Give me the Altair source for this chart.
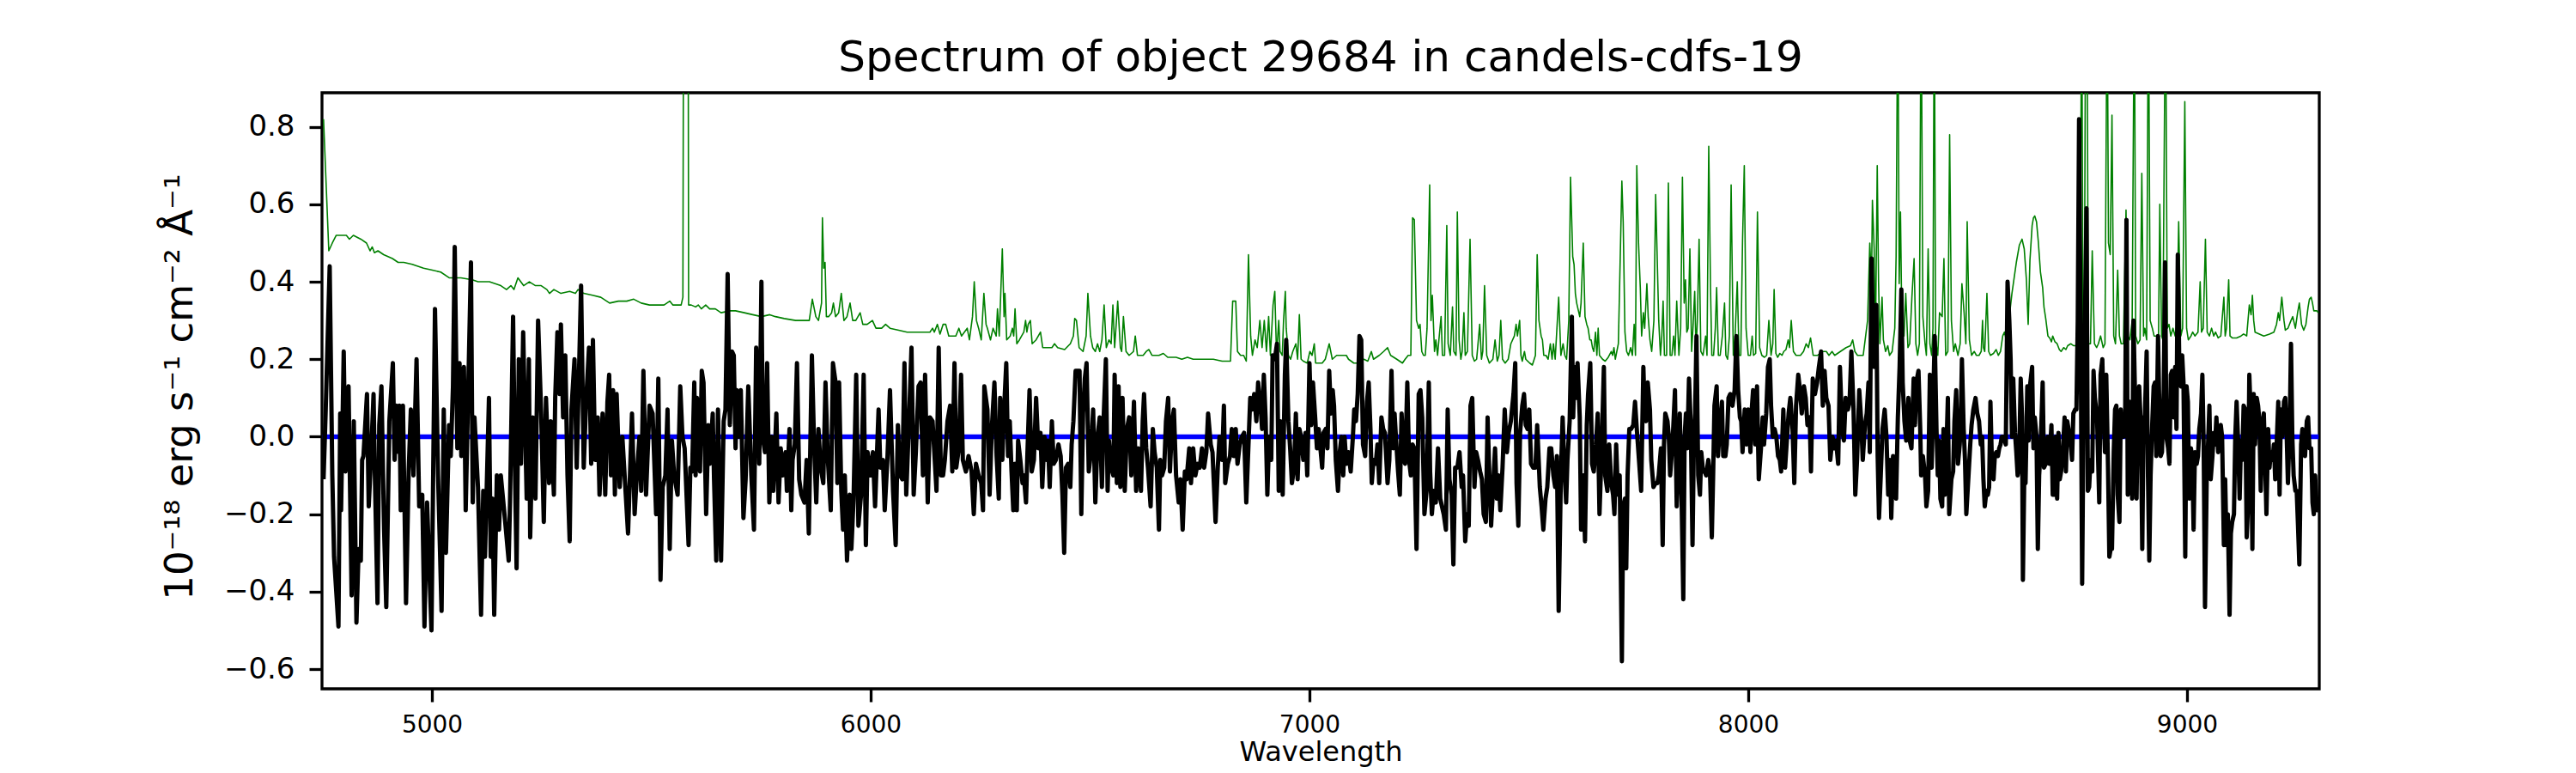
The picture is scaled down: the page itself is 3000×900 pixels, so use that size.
import altair as alt
import pandas as pd

TITLE = "Spectrum of object 29684 in candels-cdfs-19"
X_TITLE = "Wavelength"
Y_TITLE = "10⁻¹⁸ erg s⁻¹ cm⁻² Å⁻¹"
x_ticks = [5000, 6000, 7000, 8000, 9000]
y_ticks = [-0.6, -0.4, -0.2, 0.0, 0.2, 0.4, 0.6, 0.8]

# ---- object spectrum (black), (wavelength, flux) ----
black_seg1 = [(4753,-0.11),(4758,0.07),(4767,0.44),(4773,-0.10),(4777,-0.31),(4787,-0.49),(4791,0.06),(4793,-0.19),(4799,0.22),(4803,-0.09),
(4805,0.06),(4810,0.13),(4817,-0.41),(4822,0.04),(4828,-0.48),(4833,-0.29),(4838,-0.32),(4841,-0.06),(4844,-0.05),(4852,0.11),
(4856,-0.18),(4861,-0.06),(4867,0.11),(4870,-0.10),(4876,-0.43),(4880,0.03),(4885,0.13),(4891,-0.24),(4896,-0.44),(4903,0.04),
(4911,0.19),(4915,-0.06),(4919,0.08),(4924,-0.04),(4926,0.08),(4929,-0.19),(4934,0.08),(4941,-0.43),(4947,-0.09),(4952,0.07),
(4958,-0.10),(4965,0.20),(4971,-0.18),(4978,-0.15),(4983,-0.49),(4989,-0.17),(4999,-0.50),(5007,0.33),(5014,-0.10),(5022,-0.45),
(5027,0.07),(5032,-0.30),(5039,0.03),(5043,-0.05),(5048,0.13),(5052,0.49),(5058,-0.03),(5063,0.19),(5067,-0.05),(5073,0.18),
(5077,-0.19),(5082,0.08),(5089,0.45),(5093,-0.17),(5097,0.05),(5105,-0.13),(5112,-0.46),(5117,-0.14),(5121,-0.31),(5130,0.10),
(5134,-0.31),(5138,-0.16),(5142,-0.46),(5148,-0.10),(5153,-0.24),(5157,-0.10),(5167,-0.22),(5175,-0.32),(5178,-0.17),(5185,0.31),
(5189,-0.06),(5193,-0.34),(5198,0.20),(5203,-0.07),(5208,0.27),(5216,-0.16),(5221,0.20),(5224,-0.26),(5230,0.05),(5236,-0.16),
(5242,0.30),(5249,0.06),(5255,-0.22),(5260,0.10),(5267,-0.12),(5271,0.04),(5278,-0.15),(5281,0.10),(5286,0.27),(5291,0.11),
(5294,0.29),(5299,0.05),(5304,0.21),(5309,-0.10),(5314,-0.27),(5318,0.07),(5325,0.20),(5330,-0.08),(5340,0.39),(5346,-0.08),
(5351,0.08),(5358,0.23),(5363,-0.07),(5367,0.25),(5372,-0.06),(5378,0.05),(5382,-0.15),(5389,0.06),(5395,-0.15),(5400,0.09),
(5404,0.16),(5408,-0.10),(5413,0.12),(5417,-0.15),(5421,0.11),(5428,-0.13),(5434,0.00),(5447,-0.25),(5456,0.06),(5462,-0.20),
(5467,-0.10),(5473,0.00),(5477,-0.14),(5482,0.17),(5488,-0.15),(5496,0.08)]

black_seg2 = [(5503,0.06),(5511,-0.20),(5516,0.15),(5521,-0.37),(5526,-0.13),(5532,-0.10),(5537,0.07),(5542,-0.29),(5547,-0.01),(5552,-0.10),
(5560,-0.15),(5566,0.13),(5571,0.00),(5576,-0.03),(5585,-0.28),(5589,-0.08),(5593,-0.09),(5598,0.14),(5601,-0.10),(5604,0.10),
(5607,0.07),(5611,-0.09),(5615,0.17),(5619,0.14),(5625,-0.20),(5630,0.03),(5633,-0.07),(5640,0.06),(5643,-0.11),(5648,-0.32),
(5652,0.07),(5656,-0.17),(5659,-0.32),(5665,0.04),(5669,0.07),(5674,0.42),(5679,0.03),(5684,0.22),(5688,0.21),(5692,-0.03),
(5695,0.12),(5699,0.00),(5704,0.12),(5710,-0.21),(5715,-0.11),(5721,0.13),(5728,-0.10),(5734,-0.24),(5739,0.23),(5743,0.14),
(5746,-0.07),(5751,0.40),(5754,0.00),(5759,-0.04),(5764,0.19),(5769,-0.17),(5774,0.00),(5778,-0.14),(5785,0.06),(5790,-0.17),
(5795,-0.03),(5800,-0.10),(5806,-0.04),(5809,-0.14),(5815,0.02),(5819,-0.19),(5822,-0.06),(5827,-0.02),(5832,0.19),(5837,-0.11),
(5842,-0.15),(5849,-0.17),(5854,-0.06),(5859,-0.25),(5866,0.21),(5871,-0.02),(5876,-0.17),(5881,0.02),(5886,-0.08),(5892,-0.12),
(5897,0.14),(5902,-0.05),(5909,-0.19),(5914,0.19),(5920,0.14),(5924,-0.12),(5928,0.14),(5933,-0.14),(5937,-0.24),(5941,-0.10),
(5946,-0.32),(5952,-0.15),(5956,-0.29),(5961,-0.16),(5967,0.16),(5972,-0.23),(5978,-0.15),(5984,0.16),(5989,-0.28),(5993,-0.04),
(6000,-0.10),(6005,-0.04),(6010,-0.18),(6018,0.07),(6022,-0.08),(6028,-0.06),(6032,-0.19),(6038,-0.06),(6044,0.12),(6051,-0.14),
(6057,-0.28),(6062,0.03),(6067,-0.10),(6072,-0.11),(6077,0.19),(6081,-0.15),(6087,0.03),(6093,0.23),(6098,-0.15),(6103,-0.04),
(6109,0.13),(6114,0.14),(6119,-0.10),(6124,0.16),(6130,-0.17),(6135,0.05),(6141,0.04),(6145,-0.04),(6150,-0.14),(6155,0.23),
(6160,-0.10),(6165,-0.10),(6169,-0.06),(6175,0.04),(6181,0.08),(6186,-0.09),(6191,0.19),(6195,-0.08),(6201,-0.03),(6206,0.16),
(6210,-0.06),(6217,-0.09),(6223,-0.05),(6230,-0.09),(6235,-0.20),(6240,-0.07),(6246,-0.10),(6252,-0.12),(6256,-0.19),(6259,0.13)]

black_seg3 = [(6266,0.07),(6271,-0.15),(6276,0.02),(6282,0.14),(6287,-0.05),(6292,-0.16),(6295,0.10),(6300,-0.06),(6304,0.07),(6309,0.19),
(6313,-0.05),(6317,0.04),(6321,-0.09),(6325,-0.19),(6329,-0.07),(6333,-0.19),(6336,-0.01),(6341,-0.06),(6346,-0.12),(6349,-0.10),
(6354,-0.17),(6357,-0.05),(6362,0.12),(6367,-0.09),(6372,-0.06),(6377,0.10),(6382,-0.03),(6387,0.01),(6391,-0.13),(6396,0.00),
(6401,-0.06),(6404,-0.01),(6408,-0.13),(6413,0.04),(6417,-0.07),(6422,-0.06),(6428,-0.02),(6433,-0.05),(6437,-0.15),(6441,-0.30),
(6445,-0.08),(6450,-0.07),(6455,-0.13),(6458,-0.02),(6462,0.04),(6467,0.17),(6471,0.17),(6476,0.17),(6480,-0.20),(6484,0.06),
(6488,0.15),(6492,0.19),(6497,-0.09),(6502,-0.04),(6507,0.07),(6512,-0.17),(6517,0.00),(6522,0.05),(6527,-0.13),(6531,0.05),
(6536,0.20),(6540,-0.14),(6543,-0.01),(6548,-0.08),(6553,-0.10),(6556,0.16),(6561,-0.12),(6565,0.13),(6569,-0.13),(6574,0.10),
(6579,-0.14),(6584,0.02),(6589,0.05),(6594,-0.10),(6600,0.09),(6605,-0.14),(6610,-0.03),(6616,-0.14),(6620,0.04),(6623,0.11),
(6628,-0.03),(6632,-0.08),(6638,-0.18),(6643,0.02),(6647,-0.04),(6652,-0.08),(6657,-0.24),(6660,-0.06),(6664,-0.10),(6669,-0.08),
(6673,0.04),(6678,0.10),(6682,-0.09),(6687,0.04),(6691,0.07),(6696,-0.10),(6702,-0.17),(6706,-0.11),(6711,-0.24),(6716,-0.09),
(6720,-0.11),(6726,-0.03),(6730,-0.12),(6735,-0.03),(6740,-0.10),(6745,-0.07),(6750,-0.08),(6755,-0.03),(6760,-0.08),(6765,-0.04),
(6769,0.06),(6775,-0.02),(6779,-0.04),(6786,-0.22),(6791,-0.08),(6795,0.00),(6801,-0.06),(6805,0.08),(6808,-0.12),(6814,-0.07),
(6819,-0.05),(6823,0.02),(6828,-0.05),(6832,0.02),(6836,-0.07),(6841,-0.02),(6846,0.00),(6851,0.01),(6856,-0.17),(6861,-0.02),
(6865,0.10),(6869,0.07),(6874,0.11),(6879,0.04),(6883,0.14),(6889,0.07),(6892,0.02),(6896,0.16),(6900,0.05),(6904,-0.15),
(6908,0.00),(6913,-0.06),(6916,0.21),(6921,0.20),(6926,0.24),(6930,-0.14),(6934,0.04),(6939,-0.15),(6944,0.16),(6947,0.25),
(6952,0.04),(6956,-0.03),(6960,-0.12),(6965,-0.08),(6969,0.06),(6973,-0.11),(6977,0.02),(6981,0.00),(6986,-0.06),(6991,0.01),
(6995,-0.10),(7000,0.19),(7004,0.03),(7008,0.14),(7013,0.05),(7017,-0.03),(7021,0.02)]

black_seg4 = [(7029,-0.08),(7032,0.01),(7037,0.02),(7041,-0.03),(7045,0.17),(7049,0.06),(7053,0.12),(7056,0.08),(7060,-0.06),(7065,-0.14),
(7069,-0.04),(7073,0.00),(7077,-0.10),(7080,0.00),(7084,-0.07),(7089,-0.04),(7094,-0.09),(7099,0.00),(7102,0.07),(7106,0.04),
(7110,0.11),(7114,0.26),(7118,0.25),(7122,-0.02),(7127,-0.05),(7131,0.09),(7135,0.14),(7139,0.02),(7142,-0.12),(7146,-0.06),
(7151,-0.07),(7155,-0.02),(7159,-0.12),(7164,0.05),(7168,0.02),(7172,0.01),(7178,-0.12),(7182,-0.06),(7187,0.17),(7191,-0.03),
(7194,0.06),(7197,0.00),(7202,-0.09),(7206,-0.15),(7210,0.06),(7215,-0.06),(7218,-0.07),(7223,0.14),(7227,-0.06),(7231,-0.10),
(7235,-0.02),(7239,-0.03),(7244,-0.29),(7249,0.11),(7253,0.12),(7257,0.05),(7262,-0.20),(7267,-0.14),(7272,0.14),(7275,-0.09),
(7279,-0.20),(7283,-0.14),(7288,-0.17),(7293,-0.03),(7298,-0.16),(7302,-0.18),(7306,-0.20),(7311,-0.24),(7315,0.07),(7319,-0.11),
(7324,-0.15),(7328,-0.33),(7332,-0.08),(7337,-0.08),(7342,-0.04),(7347,-0.13),(7350,-0.10),(7355,-0.27),(7359,-0.20),(7363,-0.23),
(7367,0.08),(7371,0.10),(7376,-0.13),(7380,-0.04),(7384,-0.06),(7389,-0.09),(7393,-0.11),(7397,-0.20),(7402,-0.22),(7406,0.05),
(7410,-0.10),(7414,-0.23),(7418,-0.14),(7423,-0.03),(7427,-0.16),(7431,-0.10),(7435,-0.19),(7440,-0.08),(7445,0.07),(7450,-0.04),
(7454,0.01),(7459,0.04),(7465,0.11),(7469,0.19),(7472,-0.12),(7476,-0.23),(7480,0.01),(7485,0.08),(7489,0.11),(7493,0.03),
(7497,0.02),(7501,0.07),(7505,-0.07),(7510,-0.08),(7515,-0.08),(7519,0.03),(7525,-0.13),(7529,-0.18),(7533,-0.24),(7538,-0.16),
(7542,-0.13),(7547,-0.03),(7551,-0.03),(7556,-0.10),(7560,-0.13),(7564,-0.05),(7568,-0.45),(7573,-0.10),(7577,0.05),(7581,-0.08),
(7585,-0.17),(7588,-0.06),(7593,0.04),(7598,0.31),(7601,0.05),(7604,0.18),(7608,0.10),(7611,0.19),(7616,0.05),(7619,-0.24),
(7624,-0.10),(7628,-0.27),(7632,0.03),(7635,0.11),(7640,0.19),(7644,-0.07),(7648,-0.09),(7653,-0.02),(7657,0.06),(7661,-0.20),
(7666,-0.03),(7671,0.18),(7674,-0.10),(7679,-0.14),(7683,-0.02),(7688,-0.12),(7692,-0.15),(7695,-0.20),(7699,-0.02),(7703,-0.15),
(7707,-0.10),(7712,-0.58),(7715,-0.18),(7719,-0.16),(7722,-0.34),(7725,-0.10),(7729,0.02),(7733,0.02),(7738,0.03),(7742,0.09),
(7746,0.02),(7751,-0.06),(7756,-0.14),(7761,0.18),(7764,0.06),(7767,0.04),(7771,0.14),(7776,0.07),(7779,-0.06),(7784,-0.13),
(7789,-0.12)]

black_seg5 = [(7793,-0.12),(7796,-0.10),(7801,-0.03),(7805,-0.28),(7808,-0.02),(7811,0.06),(7816,0.04),(7819,0.00),(7822,-0.10),(7826,-0.04),
(7829,0.02),(7833,0.12),(7837,-0.18),(7841,-0.06),(7844,0.06),(7848,-0.15),(7852,-0.42),(7855,0.00),(7858,0.06),(7861,-0.03),
(7865,0.15),(7869,0.03),(7873,-0.28),(7876,-0.02),(7879,0.06),(7882,0.26),(7886,-0.10),(7890,-0.15),(7893,-0.04),(7897,-0.09),
(7901,-0.09),(7904,-0.10),(7909,-0.06),(7913,-0.10),(7917,-0.26),(7920,-0.10),(7923,0.08),(7928,0.13),(7931,-0.05),(7935,0.02),
(7940,0.09),(7943,-0.05),(7948,-0.05),(7951,-0.02),(7955,0.10),(7959,0.11),(7964,0.08),(7969,0.12),(7973,0.26),(7977,0.12),
(7981,0.05),(7984,0.04),(7987,-0.04),(7992,0.07),(7996,-0.02),(8000,0.07),(8005,-0.04),(8008,0.07),(8011,0.12),(8016,-0.02),
(8020,0.13),(8024,-0.11),(8029,-0.03),(8033,0.05),(8036,-0.02),(8041,0.06),(8045,0.18),(8049,0.20),(8052,0.08),(8056,0.00),
(8060,0.02),(8064,0.00),(8068,-0.05),(8072,-0.06),(8075,-0.09),(8080,0.07),(8084,-0.08),(8088,-0.01),(8092,0.06),(8096,0.10),
(8101,0.02),(8105,-0.12),(8109,0.08),(8114,0.16),(8118,0.12),(8122,0.06),(8127,0.13),(8131,0.10),(8135,0.03),(8140,0.05),
(8143,-0.09),(8147,0.15),(8152,0.11),(8157,0.14),(8161,0.18),(8166,0.22),(8170,0.08),(8174,0.17),(8178,0.10),(8183,0.08),
(8187,-0.06),(8192,0.00),(8196,-0.03),(8200,-0.01),(8205,-0.07),(8209,0.18),(8214,0.02),(8218,-0.01),(8222,0.10),(8227,0.07),
(8231,0.09),(8235,0.22),(8240,0.07),(8244,-0.15),(8248,-0.06),(8253,0.12),(8257,0.05),(8261,-0.06),(8266,0.03),(8270,0.06),
(8274,0.14),(8277,-0.04),(8281,0.46),(8284,0.30),(8287,0.18),(8292,0.34),(8295,-0.05),(8298,-0.21),(8302,-0.10),(8306,0.02),
(8311,0.07),(8315,0.00),(8319,-0.15),(8323,-0.06),(8326,-0.21),(8330,-0.05),(8333,-0.11),(8337,-0.16),(8341,0.05),(8345,0.18),
(8349,0.38),(8352,0.14),(8356,0.04),(8360,-0.01),(8365,0.10),(8368,-0.01),(8372,-0.03),(8377,0.15),(8380,0.03),(8383,0.14),
(8388,0.17),(8392,0.02),(8394,-0.10),(8398,-0.05),(8403,-0.10),(8406,-0.18),(8410,-0.14),(8414,0.16),(8418,-0.08),(8421,0.06),
(8425,0.26),(8429,0.02),(8432,-0.10),(8435,-0.01),(8438,-0.16),(8442,-0.18),(8445,0.02),(8448,-0.15),(8452,-0.02),(8455,0.10),
(8458,-0.20),(8463,-0.11),(8467,-0.09),(8470,0.04),(8474,0.12),(8478,-0.07),(8482,-0.02),(8484,0.02),(8487,0.20),(8491,0.02),
(8494,-0.06),(8497,-0.20),(8502,-0.10),(8506,-0.02),(8509,0.03),(8513,0.07),(8518,0.10),(8522,0.06),(8526,0.04),(8530,-0.02),
(8533,0.00)]

black_seg6 = [(8536,-0.11),(8539,-0.18),(8543,-0.14),(8546,-0.15),(8549,-0.13),(8552,0.09),(8556,-0.10),(8559,-0.11),(8562,-0.05),(8565,-0.04),
(8569,-0.05),(8572,-0.03),(8575,-0.02),(8578,0.00),(8582,0.00),(8587,-0.02),(8591,0.40),(8595,0.30),(8598,0.20),(8601,0.00),
(8604,0.15),(8608,0.01),(8611,-0.04),(8614,-0.10),(8617,-0.08),(8621,0.15),(8624,0.05),(8626,-0.37),(8629,-0.11),(8632,-0.12),
(8636,0.13),(8639,-0.01),(8642,0.13),(8647,0.18),(8650,-0.03),(8653,0.05),(8657,0.00),(8660,-0.29),(8663,-0.10),(8666,-0.04),
(8671,0.14),(8674,-0.08),(8678,-0.07),(8683,0.00),(8686,-0.07),(8691,0.03),(8694,-0.15),(8698,-0.15),(8701,0.00),(8704,-0.16),
(8707,0.01),(8710,-0.11),(8713,-0.09),(8717,-0.04),(8721,0.05),(8724,-0.09),(8727,0.04),(8730,0.02),(8735,-0.02),(8738,-0.06),
(8741,0.06),(8745,0.07),(8748,0.07),(8751,0.30),(8754,0.82),(8758,0.20),(8761,-0.38),(8764,0.05),(8767,0.27),(8771,0.59),
(8774,-0.14),(8777,-0.13),(8780,-0.06),(8784,-0.09),(8787,0.17),(8790,0.10),(8795,0.05),(8800,-0.17),(8803,0.16),(8807,0.20),
(8810,0.05),(8813,-0.04),(8816,0.16),(8820,-0.08),(8823,-0.31),(8826,-0.29),(8829,-0.29),(8833,-0.04),(8836,0.07),(8839,0.08),
(8842,-0.15),(8846,-0.22),(8849,0.07),(8852,0.00),(8855,0.00),(8859,0.04),(8862,0.56),(8865,-0.15),(8869,0.09),(8872,0.00),
(8875,-0.16),(8878,0.30),(8882,0.08),(8885,-0.16),(8888,0.08),(8891,0.13),(8895,0.02),(8898,-0.29),(8901,0.05),(8904,0.05),
(8908,0.22),(8911,-0.10),(8914,-0.32),(8917,-0.10),(8921,0.04),(8924,0.13),(8927,0.14),(8930,-0.05),(8934,0.26),(8937,0.07),
(8940,-0.05),(8943,-0.04),(8947,0.12),(8950,0.45),(8953,0.00),(8957,-0.03),(8960,-0.07),(8963,0.16),(8966,0.17),(8970,0.05),
(8973,0.18),(8976,0.02),(8979,0.47),(8983,0.14),(8986,0.13),(8989,0.21),(8992,0.14),(8996,-0.31),(8999,0.13),(9002,0.09),
(9005,-0.16),(9009,-0.03),(9012,-0.06),(9015,-0.24),(9018,-0.04),(9022,-0.07),(9025,-0.05),(9028,0.02),(9032,0.06),(9035,0.16),
(9038,-0.02),(9041,-0.44),(9045,-0.10),(9048,-0.02),(9051,0.08),(9054,-0.11),(9058,-0.05),(9061,0.01),(9064,-0.02),(9067,0.05),
(9071,-0.04),(9074,0.02),(9077,0.03),(9080,0.00),(9084,-0.28),(9087,-0.11),(9090,-0.28),(9093,-0.20),(9097,-0.46),(9100,-0.25),
(9103,-0.22),(9107,-0.20),(9110,0.00),(9113,0.09),(9116,0.00),(9120,-0.16),(9123,-0.01),(9126,-0.06),(9129,0.08),(9133,0.07),
(9136,-0.26),(9139,-0.18),(9142,0.16),(9146,0.03),(9149,-0.29),(9152,0.11),(9155,-0.02),(9159,0.10),(9162,0.08),(9165,0.04),
(9168,-0.14),(9172,0.03),(9175,0.06),(9178,-0.06),(9181,-0.20),(9185,0.02),(9188,-0.08),(9191,-0.04),(9195,-0.06),(9198,-0.02),
(9201,-0.11),(9204,-0.03),(9208,0.09),(9211,-0.15),(9214,0.07),(9217,0.00),(9221,0.09),(9224,0.10),(9227,0.01),(9230,-0.12),
(9234,0.02),(9237,0.24),(9240,0.00),(9243,-0.10),(9247,-0.14),(9250,-0.14),(9253,-0.23),(9256,-0.33),(9260,-0.02),(9263,0.02),
(9266,-0.02),(9269,-0.05),(9273,0.04),(9276,0.05),(9279,-0.03),(9283,-0.03),(9286,-0.17),(9289,-0.20),(9292,-0.10),(9296,-0.19),
(9299,-0.19)]

# ---- sky / noise spectrum (green) ----
sky_seg1 = [(4753,0.82),(4765,0.48),(4773,0.50),(4782,0.52),(4805,0.52),(4812,0.51),(4821,0.52),(4838,0.51),(4851,0.50),(4859,0.48),
(4864,0.49),(4869,0.475),(4877,0.48),(4890,0.47),(4910,0.46),(4923,0.45),(4936,0.45),(4955,0.445),(4968,0.44),(4981,0.435),
(5001,0.43),(5020,0.425),(5040,0.41),(5066,0.41),(5092,0.405),(5105,0.40),(5131,0.40),(5157,0.39),(5170,0.38),(5180,0.39),
(5187,0.38),(5196,0.41),(5209,0.39),(5222,0.40),(5236,0.39),(5249,0.39),(5262,0.38),(5268,0.37),(5278,0.38),(5294,0.37),
(5314,0.375),(5327,0.37),(5333,0.38),(5346,0.37),(5366,0.365),(5385,0.36),(5405,0.345),(5425,0.35),(5444,0.35),(5460,0.355),
(5477,0.345),(5496,0.34)]

sky_seg2 = [(5503,0.34),(5529,0.34),(5542,0.35),(5549,0.34),(5568,0.34),(5572,0.36),(5575,2.0),(5583,2.0),(5585,0.34),(5591,0.34),
(5601,0.335),(5607,0.34),(5614,0.33),(5624,0.34),(5633,0.33),(5646,0.33),(5659,0.32),(5679,0.325),(5692,0.325),(5712,0.32),
(5731,0.315),(5751,0.31),(5770,0.315),(5783,0.31),(5803,0.305),(5829,0.30),(5849,0.30),(5860,0.30),(5867,0.355),(5875,0.31),
(5881,0.30),(5888,0.345),(5890,0.565),(5893,0.435),(5896,0.45),(5899,0.31),(5904,0.31),(5911,0.32),(5915,0.345),(5920,0.31),
(5927,0.32),(5933,0.37),(5939,0.30),(5946,0.31),(5953,0.345),(5959,0.30),(5966,0.30),(5976,0.32),(5982,0.29),(5992,0.29),
(6004,0.30),(6012,0.28),(6025,0.28),(6034,0.29),(6044,0.28),(6064,0.275),(6083,0.27),(6103,0.27),(6122,0.27),(6135,0.27),
(6141,0.28),(6145,0.27),(6152,0.29),(6158,0.265),(6165,0.29),(6171,0.29),(6178,0.26),(6194,0.26),(6201,0.28),(6207,0.26),
(6220,0.28),(6225,0.25),(6232,0.31),(6236,0.40),(6241,0.30),(6246,0.28),(6252,0.25),(6258,0.37),(6263,0.29)]

sky_seg3 = [(6266,0.28),(6273,0.25),(6279,0.28),(6286,0.26),(6289,0.33),(6293,0.26),(6300,0.485),(6304,0.31),(6306,0.37),(6310,0.25),
(6318,0.26),(6323,0.28),(6326,0.26),(6329,0.33),(6333,0.24),(6339,0.25),(6344,0.26),(6349,0.27),(6353,0.30),(6356,0.27),
(6359,0.29),(6364,0.30),(6368,0.24),(6377,0.25),(6382,0.26),(6387,0.27),(6392,0.23),(6403,0.23),(6413,0.23),(6419,0.24),
(6426,0.23),(6442,0.225),(6455,0.24),(6462,0.26),(6465,0.305),(6469,0.30),(6475,0.23),(6484,0.22),(6491,0.26),(6495,0.37),
(6501,0.26),(6506,0.23),(6512,0.22),(6517,0.24),(6522,0.22),(6527,0.25),(6532,0.34),(6537,0.23),(6543,0.25),(6548,0.24),
(6552,0.34),(6556,0.23),(6563,0.35),(6569,0.23),(6572,0.22),(6576,0.31),(6582,0.22),(6589,0.21),(6599,0.22),(6603,0.26),
(6608,0.21),(6621,0.21),(6628,0.22),(6634,0.225),(6641,0.21),(6657,0.21),(6667,0.215),(6677,0.205),(6696,0.205),(6709,0.20),
(6722,0.205),(6735,0.20),(6748,0.20),(6762,0.20),(6781,0.20),(6801,0.195),(6820,0.195),(6825,0.35),(6832,0.35),(6836,0.22),
(6843,0.21),(6850,0.21),(6856,0.195),(6861,0.47),(6866,0.26),(6870,0.21),(6876,0.25),(6881,0.23),(6887,0.30),(6892,0.23),
(6897,0.30),(6902,0.22),(6907,0.31),(6911,0.21),(6917,0.34),(6921,0.375),(6925,0.21),(6930,0.30),(6933,0.22),(6938,0.21),
(6941,0.30),(6945,0.375),(6947,0.28),(6952,0.21),(6957,0.20),(6962,0.22),(6969,0.24),(6973,0.20),(6977,0.315),(6981,0.20),
(6986,0.195),(6995,0.19),(7001,0.22),(7006,0.21),(7011,0.24),(7014,0.19),(7022,0.19),(7026,0.19)]

sky_seg4 = [(7029,0.19),(7036,0.20),(7045,0.24),(7052,0.20),(7062,0.21),(7075,0.21),(7084,0.21),(7089,0.20),(7101,0.19),(7114,0.19),
(7124,0.20),(7133,0.195),(7141,0.22),(7146,0.20),(7159,0.21),(7169,0.22),(7178,0.23),(7185,0.21),(7199,0.20),(7212,0.19),
(7218,0.20),(7225,0.21),(7231,0.21),(7235,0.565),(7239,0.56),(7244,0.30),(7249,0.28),(7252,0.29),(7256,0.22),(7260,0.21),
(7264,0.21),(7268,0.28),(7274,0.65),(7277,0.30),(7280,0.365),(7285,0.22),(7288,0.25),(7292,0.21),(7295,0.25),(7300,0.31),
(7303,0.21),(7308,0.21),(7313,0.545),(7316,0.24),(7321,0.21),(7326,0.335),(7329,0.22),(7334,0.21),(7337,0.58),(7341,0.25),
(7345,0.20),(7348,0.22),(7352,0.32),(7355,0.21),(7360,0.22),(7366,0.51),(7371,0.21),(7376,0.195),(7381,0.20),(7388,0.29),
(7392,0.20),(7395,0.22),(7399,0.39),(7404,0.21),(7410,0.19),(7418,0.20),(7423,0.25),(7428,0.195),(7432,0.21),(7436,0.30),
(7440,0.20),(7446,0.19),(7453,0.20),(7459,0.24),(7467,0.26),(7471,0.29),(7474,0.26),(7479,0.30),(7482,0.21),(7485,0.195),
(7490,0.22),(7493,0.20),(7502,0.19),(7508,0.185),(7515,0.21),(7519,0.47),(7523,0.30),(7528,0.26),(7531,0.25),(7534,0.21),
(7539,0.21),(7544,0.20),(7549,0.24),(7553,0.20),(7556,0.24),(7560,0.20),(7568,0.36),(7573,0.21),(7578,0.24),(7582,0.21),
(7586,0.20),(7591,0.30),(7595,0.67),(7600,0.465),(7603,0.445),(7606,0.37),(7609,0.345),(7613,0.325),(7616,0.31),(7619,0.345),
(7624,0.50),(7628,0.31),(7632,0.29),(7635,0.28),(7639,0.25),(7642,0.25),(7645,0.23),(7648,0.22),(7652,0.27),(7655,0.21),
(7658,0.28),(7661,0.21),(7668,0.20),(7674,0.195),(7681,0.205),(7688,0.22),(7691,0.21),(7694,0.23),(7697,0.20),(7704,0.24),
(7707,0.395),(7712,0.66),(7715,0.555),(7719,0.27),(7723,0.22),(7727,0.21),(7732,0.23),(7736,0.21),(7740,0.29),(7743,0.21),
(7746,0.70),(7750,0.50),(7754,0.385),(7757,0.26),(7761,0.32),(7764,0.28),(7769,0.395),(7772,0.31),(7776,0.25),(7780,0.22),
(7785,0.30),(7789,0.625)]

sky_seg5 = [(7796,0.30),(7800,0.21),(7803,0.26),(7806,0.35),(7809,0.21),(7814,0.21),(7818,0.655),(7822,0.21),(7826,0.21),(7830,0.26),
(7833,0.21),(7837,0.35),(7842,0.21),(7846,0.28),(7850,0.67),(7854,0.345),(7857,0.405),(7860,0.27),(7863,0.28),(7867,0.485),
(7871,0.22),(7874,0.28),(7878,0.375),(7881,0.22),(7884,0.30),(7888,0.51),(7892,0.22),(7897,0.21),(7903,0.26),(7906,0.21),
(7910,0.75),(7914,0.385),(7917,0.21),(7921,0.21),(7925,0.28),(7928,0.385),(7932,0.21),(7936,0.21),(7941,0.26),(7946,0.345),
(7949,0.21),(7953,0.20),(7957,0.26),(7961,0.65),(7966,0.21),(7970,0.26),(7975,0.40),(7979,0.21),(7983,0.21),(7987,0.505),
(7991,0.70),(7995,0.28),(8000,0.21),(8005,0.21),(8009,0.26),(8012,0.21),(8017,0.215),(8021,0.58),(8026,0.23),(8031,0.21),
(8037,0.205),(8042,0.21),(8047,0.30),(8052,0.21),(8056,0.24),(8059,0.38),(8063,0.215),(8067,0.205),(8072,0.215),(8077,0.21),
(8081,0.22),(8086,0.225),(8091,0.25),(8094,0.23),(8098,0.30),(8103,0.22),(8109,0.21),(8119,0.21),(8126,0.22),(8132,0.24),
(8137,0.23),(8142,0.255),(8148,0.21),(8158,0.21),(8168,0.22),(8178,0.22),(8184,0.21),(8191,0.22),(8197,0.21),(8210,0.22),
(8223,0.23),(8233,0.235),(8238,0.25),(8243,0.22),(8249,0.21),(8262,0.21),(8272,0.30),(8277,0.50),(8281,0.40),(8283,0.61),
(8287,0.485),(8290,0.25),(8294,0.70),(8297,0.40),(8300,0.24),(8305,0.36),(8308,0.25),(8313,0.22),(8318,0.235),(8322,0.21),
(8328,0.22),(8334,0.28),(8337,0.465),(8341,1.2),(8344,0.395),(8347,0.58),(8350,0.30),(8355,0.26),(8359,0.37),(8364,0.23),
(8368,0.24),(8373,0.36),(8378,0.46),(8382,0.24),(8386,0.21),(8390,0.24),(8394,1.2),(8398,0.31),(8403,0.24),(8406,0.21),
(8410,0.485),(8414,0.24),(8418,0.21),(8421,0.28),(8424,1.2),(8427,0.25),(8432,0.21),(8436,0.32),(8442,0.31),(8446,0.46),
(8450,0.21),(8455,0.22),(8459,0.78),(8463,0.30),(8468,0.22),(8472,0.24),(8478,0.21),(8483,0.24),(8487,0.395),(8492,0.32),
(8496,0.24),(8499,0.555),(8504,0.25),(8509,0.21),(8515,0.22),(8520,0.21),(8526,0.21),(8531,0.22),(8534,0.30)]

sky_seg6 = [(8536,0.23),(8539,0.22),(8544,0.37),(8548,0.22),(8552,0.21),(8559,0.215),(8565,0.225),(8570,0.21),(8575,0.22),(8580,0.26),
(8584,0.27),(8588,0.25),(8591,0.28),(8596,0.32),(8601,0.37),(8606,0.41),(8611,0.45),(8618,0.495),(8624,0.51),(8629,0.485),
(8634,0.405),(8638,0.29),(8642,0.455),(8647,0.545),(8650,0.565),(8653,0.57),(8657,0.555),(8661,0.505),(8666,0.425),(8671,0.385),
(8674,0.335),(8678,0.305),(8683,0.26),(8687,0.255),(8691,0.245),(8694,0.26),(8699,0.245),(8704,0.24),(8709,0.225),(8713,0.22),
(8719,0.23),(8724,0.225),(8728,0.235),(8735,0.24),(8741,0.235),(8746,0.235),(8751,0.24),(8756,0.25),(8760,1.2),(8763,0.25),
(8766,0.26),(8769,1.2),(8772,1.2),(8775,0.24),(8780,0.24),(8784,0.48),(8789,0.24),(8794,0.23),(8798,0.24),(8803,0.26),
(8809,0.23),(8813,0.24),(8818,1.2),(8821,0.50),(8825,0.47),(8829,0.83),(8833,0.26),(8837,0.24),(8842,0.43),(8846,0.26),
(8850,0.24),(8855,0.24),(8861,0.585),(8865,0.26),(8870,0.25),(8875,0.30),(8880,1.2),(8883,0.26),(8888,0.24),(8893,0.25),
(8897,0.68),(8901,0.26),(8904,0.28),(8908,0.25),(8912,1.2),(8916,0.30),(8921,0.28),(8925,0.26),(8930,0.26),(8935,0.25),
(8938,0.60),(8942,0.26),(8945,0.25),(8951,1.2),(8955,0.28),(8959,0.29),(8963,0.26),(8968,0.28),(8973,0.26),(8977,0.29),
(8981,0.555),(8986,0.26),(8990,0.28),(8995,0.865),(8999,0.28),(9003,0.25),(9009,0.26),(9013,0.27),(9018,0.26),(9025,0.27),
(9030,0.40),(9033,0.27),(9037,0.28),(9042,0.51),(9046,0.27),(9051,0.26),(9056,0.28),(9061,0.26),(9065,0.27),(9071,0.255),
(9077,0.26),(9084,0.36),(9087,0.26),(9090,0.28),(9095,0.405),(9098,0.26),(9103,0.255),(9113,0.255),(9123,0.26),(9129,0.265),
(9136,0.26),(9142,0.34),(9146,0.315),(9149,0.365),(9152,0.30),(9155,0.27),(9165,0.265),(9175,0.26),(9188,0.265),(9198,0.27),
(9204,0.29),(9208,0.32),(9211,0.30),(9216,0.36),(9221,0.30),(9224,0.275),(9230,0.28),(9237,0.30),(9241,0.31),(9247,0.28),
(9252,0.32),(9256,0.345),(9261,0.29),(9266,0.275),(9271,0.29),(9276,0.335),(9279,0.355),(9283,0.36),(9286,0.345),(9289,0.325),
(9296,0.325),(9299,0.32)]

# ---- zero level (blue) ----
zero_wave = [4751, 9300]
zero_flux = [0.0, 0.0]

black = black_seg1 + black_seg2 + black_seg3 + black_seg4 + black_seg5 + black_seg6
sky = sky_seg1 + sky_seg2 + sky_seg3 + sky_seg4 + sky_seg5 + sky_seg6

df_black = pd.DataFrame(black, columns=["wave", "flux"])
df_sky = pd.DataFrame(sky, columns=["wave", "flux"])
df_zero = pd.DataFrame({"wave": zero_wave, "flux": zero_flux})

FONT = "DejaVu Sans"
x_scale = alt.Scale(domain=[4749.5, 9301.4], nice=False, zero=False)
y_scale = alt.Scale(domain=[-0.651, 0.888], nice=False, zero=False)

x_axis = alt.Axis(values=x_ticks, format="d", title=X_TITLE, grid=False, domain=False,
                  labelFont=FONT, labelFontSize=28, labelColor="black",
                  labelBaseline="alphabetic", labelPadding=35, labelFlush=False,
                  tickSize=15, tickWidth=3.3, tickColor="black",
                  titleFont=FONT, titleFontSize=32, titleFontWeight="normal", titleColor="black",
                  titleBaseline="alphabetic", titleY=83)
y_axis = alt.Axis(values=y_ticks, format=".1f", title=Y_TITLE, grid=False, domain=False,
                  labelFont=FONT, labelFontSize=34, labelColor="black", labelPadding=17,
                  labelFlush=False, tickSize=15, tickWidth=3.3, tickColor="black",
                  titleFont=FONT, titleFontSize=45, titleFontWeight="normal", titleColor="black",
                  titleAngle=270, titleBaseline="alphabetic", titleAlign="center",
                  titleX=-152, titleY=342)

def enc():
    return dict(
        x=alt.X("wave:Q", scale=x_scale, axis=x_axis),
        y=alt.Y("flux:Q", scale=y_scale, axis=y_axis),
    )

sky_line = alt.Chart(df_sky).mark_line(color="#008000", strokeWidth=1.6, clip=True,
                                       strokeJoin="round").encode(**enc())
zero_line = alt.Chart(df_zero).mark_line(color="#0000ff", strokeWidth=5.5, clip=True).encode(**enc())
obj_line = alt.Chart(df_black).mark_line(color="black", strokeWidth=5, clip=True,
                                         strokeJoin="round").encode(**enc())

chart = alt.layer(sky_line, zero_line, obj_line).properties(
    width=2326,
    height=694,
    title=alt.TitleParams(text=TITLE, font=FONT, fontSize=50, fontWeight="normal", color="black",
                          anchor="middle", frame="group", offset=25, dy=50, baseline="alphabetic"),
    autosize=alt.AutoSizeParams(type="none"),
    padding={"left": 367, "top": 100, "right": 250, "bottom": 92},
    background="white",
).configure_view(stroke="black", strokeWidth=3.3)

chart.save("out.html", embed_options={"renderer": "svg", "actions": False})
